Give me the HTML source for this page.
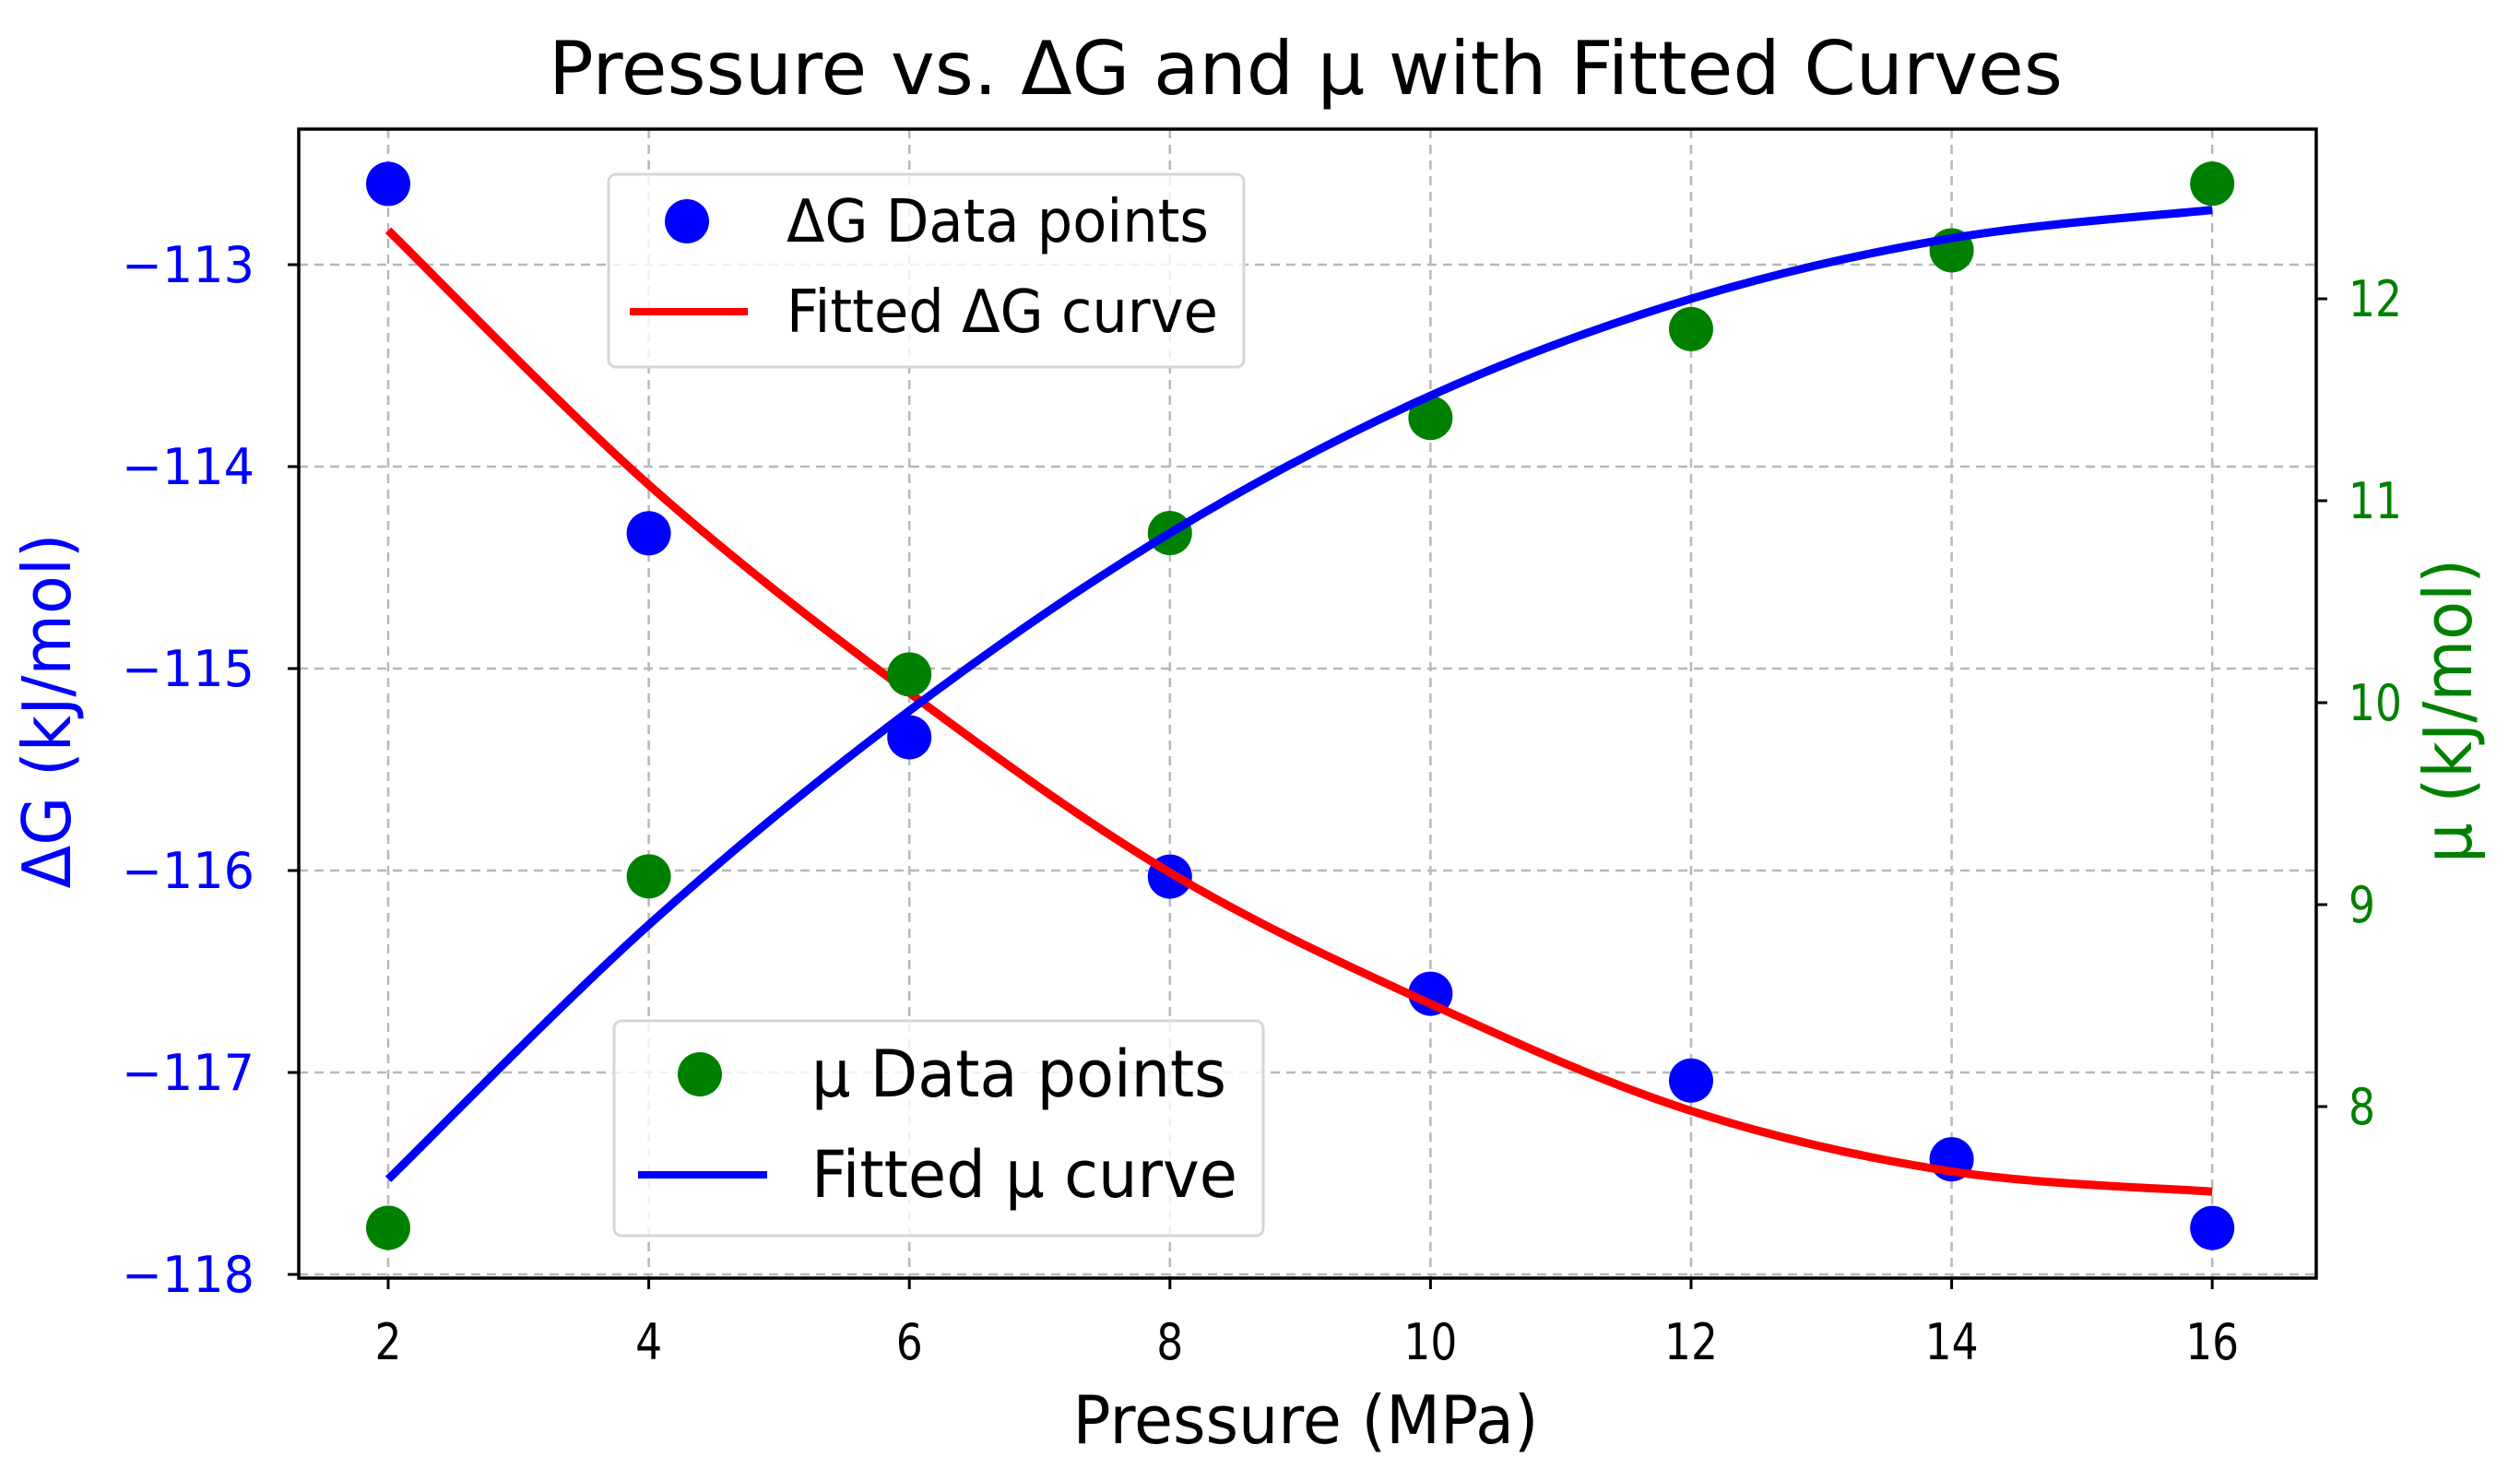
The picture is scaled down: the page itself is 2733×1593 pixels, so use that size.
<!DOCTYPE html>
<html><head><meta charset="utf-8"><style>
html,body{margin:0;padding:0;background:#fff}
svg{display:block}
text{font-family:"DejaVu Sans","Liberation Sans",sans-serif}
</style></head><body>
<svg id="chart" width="2733" height="1593" viewBox="0 0 2733 1593">
<rect width="2733" height="1593" fill="#fff"/>
<g id="grid"></g>
<g id="series"></g>
<rect x="324" y="140" width="2188" height="1246" fill="none" stroke="#000" stroke-width="3.5"/>
<g id="axes"></g>
<text x="1416" y="102" font-size="80" text-anchor="middle" textLength="1642" lengthAdjust="spacingAndGlyphs">Pressure vs. ΔG and μ with Fitted Curves</text>
<text x="1416" y="1565" font-size="72" text-anchor="middle" textLength="505" lengthAdjust="spacingAndGlyphs">Pressure (MPa)</text>
<text transform="translate(76,771) rotate(-90)" font-size="72" fill="#0000ff" text-anchor="middle" textLength="385" lengthAdjust="spacingAndGlyphs">ΔG (kJ/mol)</text>
<text transform="translate(2680,771) rotate(-90)" font-size="72" fill="#008000" text-anchor="middle" textLength="330" lengthAdjust="spacingAndGlyphs">μ (kJ/mol)</text>
<g>
<rect x="660" y="189" width="689" height="209" rx="8" fill="#fff" fill-opacity="0.8" stroke="#d6d6d6" stroke-width="3"/>
<circle cx="745" cy="240" r="24" fill="#0000ff"/>
<text x="853" y="262" font-size="64" textLength="458" lengthAdjust="spacingAndGlyphs">ΔG Data points</text>
<line x1="683" y1="338" x2="811" y2="338" stroke="#ff0000" stroke-width="8"/>
<text x="853" y="360" font-size="64" textLength="468" lengthAdjust="spacingAndGlyphs">Fitted ΔG curve</text>
</g>
<g>
<rect x="666" y="1107" width="704" height="233" rx="8" fill="#fff" fill-opacity="0.8" stroke="#d6d6d6" stroke-width="3"/>
<circle cx="759" cy="1165" r="24" fill="#008000"/>
<text x="880" y="1189" font-size="70" textLength="450" lengthAdjust="spacingAndGlyphs">μ Data points</text>
<line x1="692" y1="1274" x2="832" y2="1274" stroke="#0000ff" stroke-width="8"/>
<text x="880" y="1298" font-size="70" textLength="462" lengthAdjust="spacingAndGlyphs">Fitted μ curve</text>
</g>
</svg>
<script>
const pressures = [2, 4, 6, 8, 10, 12, 14, 16];
const dgPoints = [-112.60, -114.33, -115.34, -116.03, -116.61, -117.04, -117.43, -117.77];
const muPoints = [7.40, 9.14, 10.14, 10.84, 11.41, 11.85, 12.24, 12.57];
const dgFit = [-112.83, -114.09, -115.12, -116.01, -116.66, -117.19, -117.49, -117.59];
const muFit = [7.64, 8.90, 9.96, 10.84, 11.52, 12.00, 12.30, 12.44];
const xTicks = [2, 4, 6, 8, 10, 12, 14, 16];
const dgTicks = [-113, -114, -115, -116, -117, -118];
const muTicks = [8, 9, 10, 11, 12];

const NS = "http://www.w3.org/2000/svg";
const L = 324, R = 2512, T = 140, B = 1386;
function xs(v){ return 421 + (v - 2) * 141.3; }
function yDG(v){ return 287 + (-113 - v) * 219; }
function yMU(v){ return 1200 - (v - 8) * 219; }
function mk(tag, attrs, parent){
  const e = document.createElementNS(NS, tag);
  for (const k in attrs) e.setAttribute(k, attrs[k]);
  parent.appendChild(e); return e;
}
function tl(s){ return s.length * 29 + (s.charAt(0) === "\u2212" ? 28 : 0); }
const grid = document.getElementById('grid');
const axes = document.getElementById('axes');
const series = document.getElementById('series');
const MINUS = "\u2212";

xTicks.forEach(t => {
  const x = xs(t);
  const g = mk('line', {x1:x, y1:T, x2:x, y2:B, stroke:'#b8b8b8', 'stroke-width':2.5, 'stroke-dasharray':'10 7'}, grid);
  
  
  const tk = mk('line', {x1:x, y1:B, x2:x, y2:B+12, stroke:'#000', 'stroke-width':3}, axes);
  
  
  const s = String(t);
  const lb = mk('text', {x:x, y:1474, 'font-size':54, 'text-anchor':'middle', textLength:tl(s), lengthAdjust:'spacingAndGlyphs'}, axes);
  lb.textContent = s;
  
  
});
dgTicks.forEach(t => {
  const y = yDG(t);
  const g = mk('line', {x1:L, y1:y, x2:R, y2:y, stroke:'#b8b8b8', 'stroke-width':2.5, 'stroke-dasharray':'10 7'}, grid);
  
  
  const tk = mk('line', {x1:L-12, y1:y, x2:L, y2:y, stroke:'#000', 'stroke-width':3}, axes);
  
  
  const s = MINUS + Math.abs(t);
  const lb = mk('text', {x:276, y:y+19, 'font-size':54, 'text-anchor':'end', fill:'#0000ff', textLength:144, lengthAdjust:'spacingAndGlyphs'}, axes);
  lb.textContent = s;
  
  
});
muTicks.forEach(t => {
  const y = yMU(t);
  const tk = mk('line', {x1:R, y1:y, x2:R+12, y2:y, stroke:'#000', 'stroke-width':3}, axes);
  
  
  const s = String(t);
  const lb = mk('text', {x:2547, y:y+19, 'font-size':54, fill:'#008000', textLength:tl(s), lengthAdjust:'spacingAndGlyphs'}, axes);
  lb.textContent = s;
  
  
});

function smoothPath(px, py){
  let d = 'M' + px[0] + ',' + py[0];
  for (let i = 0; i < px.length - 1; i++){
    const p0 = i > 0 ? i - 1 : i, p3 = i + 2 < px.length ? i + 2 : i + 1;
    const c1x = px[i] + (px[i+1] - px[p0]) / 6, c1y = py[i] + (py[i+1] - py[p0]) / 6;
    const c2x = px[i+1] - (px[p3] - px[i]) / 6, c2y = py[i+1] - (py[p3] - py[i]) / 6;
    d += ' C' + c1x + ',' + c1y + ' ' + c2x + ',' + c2y + ' ' + px[i+1] + ',' + py[i+1];
  }
  return d;
}
pressures.forEach((p, i) => {
  const c = mk('circle', {cx:xs(p), cy:yDG(dgPoints[i]), r:24, fill:'#0000ff'}, series);
  
  
});
const dgLine = mk('path', {d:smoothPath(pressures.map(xs), dgFit.map(yDG)), fill:'none', stroke:'#ff0000', 'stroke-width':9}, series);


pressures.forEach((p, i) => {
  const c = mk('circle', {cx:xs(p), cy:yMU(muPoints[i]), r:24, fill:'#008000'}, series);
  
  
});
const muLine = mk('path', {d:smoothPath(pressures.map(xs), muFit.map(yMU)), fill:'none', stroke:'#0000ff', 'stroke-width':9}, series);


</script>
</body></html>
